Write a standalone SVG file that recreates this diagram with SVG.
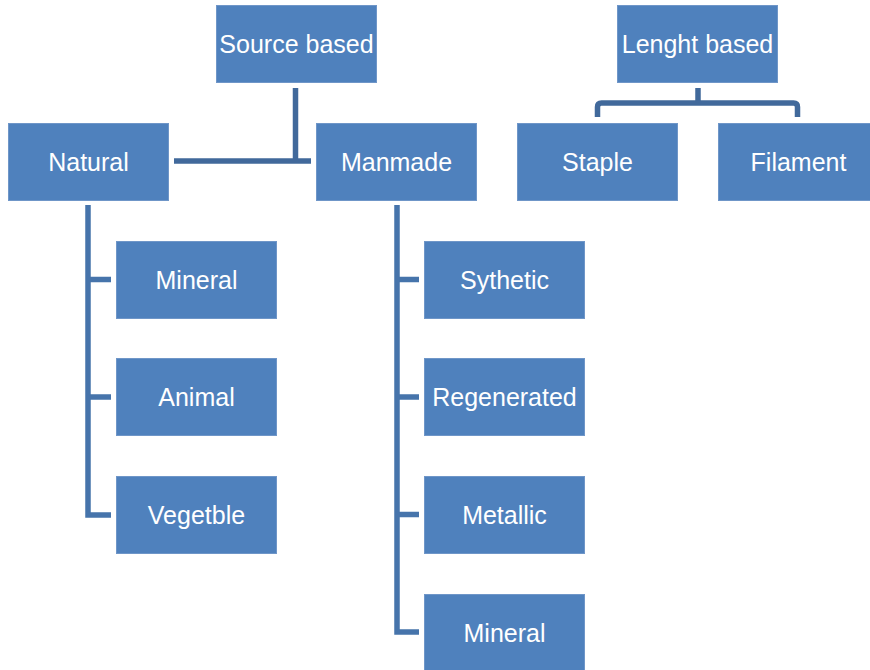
<svg xmlns="http://www.w3.org/2000/svg" width="870" height="670" viewBox="0 0 870 670">
<style>
.box{fill:#4F81BD;stroke:#6F96C8;stroke-width:1}
.lbl{fill:#FFFFFF;font-family:"Liberation Sans",Arial,sans-serif;font-size:25px;text-anchor:middle}
.con{fill:none;stroke:#41699B;stroke-width:5.5}
.con2{fill:none;stroke:#4674AB;stroke-width:5.5}
</style>
<rect width="870" height="670" fill="#FFFFFF"/>
<g id="connectors">
<path class="con" d="M295.5,88 V161 M174,161 H311"/>
<path class="con" d="M698,88 V103 M597.5,117 V107 Q597.5,103 601.5,103 H793.5 Q797.5,103 797.5,107 V117" stroke-linejoin="round"/>
<path class="con2" d="M88,205 V515 H111 M88,279.5 H111 M88,397 H111"/>
<path class="con2" d="M397,205 V632 H419 M397,279.5 H419 M397,397 H419 M397,514.5 H419"/>
</g>
<g id="source"><rect class="box" x="216.5" y="5.5" width="160" height="77"/><text class="lbl" x="296.5" y="53">Source based</text></g>
<g id="lenght"><rect class="box" x="617.5" y="5.5" width="160" height="77"/><text class="lbl" x="697.5" y="53">Lenght based</text></g>
<g id="natural"><rect class="box" x="8.5" y="123.5" width="160" height="77"/><text class="lbl" x="88.5" y="171">Natural</text></g>
<g id="manmade"><rect class="box" x="316.5" y="123.5" width="160" height="77"/><text class="lbl" x="396.5" y="171">Manmade</text></g>
<g id="staple"><rect class="box" x="517.5" y="123.5" width="160" height="77"/><text class="lbl" x="597.5" y="171">Staple</text></g>
<g id="filament"><rect class="box" x="718.5" y="123.5" width="152" height="77"/><text class="lbl" x="798.5" y="171">Filament</text></g>
<g id="mineral1"><rect class="box" x="116.5" y="241.5" width="160" height="77"/><text class="lbl" x="196.5" y="289">Mineral</text></g>
<g id="animal"><rect class="box" x="116.5" y="358.5" width="160" height="77"/><text class="lbl" x="196.5" y="406">Animal</text></g>
<g id="vegetble"><rect class="box" x="116.5" y="476.5" width="160" height="77"/><text class="lbl" x="196.5" y="524">Vegetble</text></g>
<g id="sythetic"><rect class="box" x="424.5" y="241.5" width="160" height="77"/><text class="lbl" x="504.5" y="289">Sythetic</text></g>
<g id="regenerated"><rect class="box" x="424.5" y="358.5" width="160" height="77"/><text class="lbl" x="504.5" y="406">Regenerated</text></g>
<g id="metallic"><rect class="box" x="424.5" y="476.5" width="160" height="77"/><text class="lbl" x="504.5" y="524">Metallic</text></g>
<g id="mineral2"><rect class="box" x="424.5" y="594.5" width="160" height="77"/><text class="lbl" x="504.5" y="642">Mineral</text></g>
</svg>
